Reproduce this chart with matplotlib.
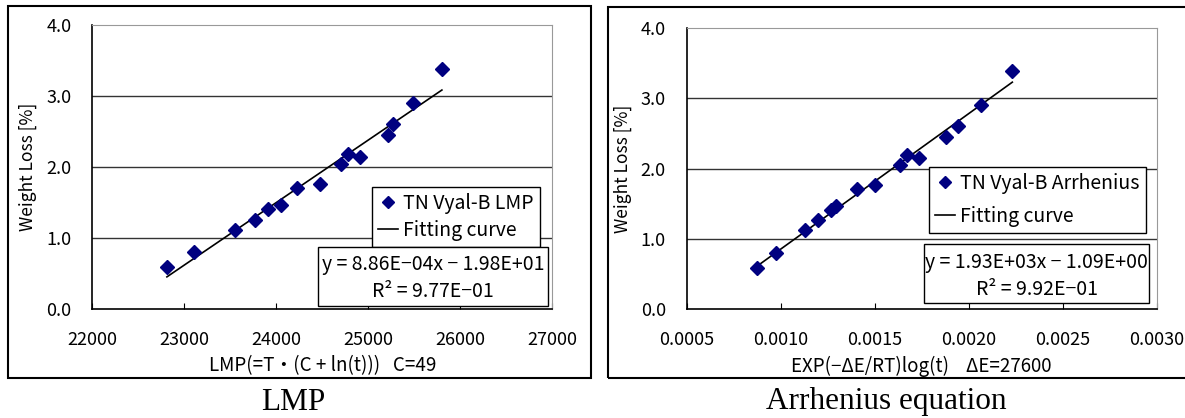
import numpy as np
import matplotlib
matplotlib.use('Agg')
import matplotlib.pyplot as plt
from matplotlib.lines import Line2D
from matplotlib.patches import Rectangle
from matplotlib.ticker import FormatStrFormatter

plt.rcParams['font.family'] = ['Noto Sans CJK JP', 'DejaVu Sans']

# Weight loss [%] (same samples in both panels)
weight_loss = [0.59, 0.80, 1.12, 1.26, 1.41, 1.46, 1.71, 1.76,
               2.05, 2.19, 2.15, 2.45, 2.61, 2.90, 3.39]

# Larson-Miller parameter, C=49
lmp = [22811, 23101, 23548, 23769, 23912, 24048, 24220, 24473,
       24699, 24781, 24912, 25219, 25272, 25489, 25800]

# EXP(-dE/RT)log(t), dE=27600
arrh = [0.000874, 0.000974, 0.001128, 0.001200, 0.001270, 0.001294,
        0.001408, 0.001502, 0.001634, 0.001670, 0.001736, 0.001878,
        0.001944, 0.002066, 0.002232]

lmp_eq = ['y = 8.86E\u221204x \u2212 1.98E+01', 'R\u00b2 = 9.77E\u221201']
arrh_eq = ['y = 1.93E+03x \u2212 1.09E+00', 'R\u00b2 = 9.92E\u221201']

W, H = 1185, 418
fig = plt.figure(figsize=(W / 100, H / 100), dpi=100)


def fx(px):
    return px / W


def fy(py):
    return 1 - py / H


def panel(rect, x, y, xlim, xticks, xfmt, xlabel, series, eq, leg_xy, leg_sp,
          eq_box, title, title_x):
    x0, y0, x1, y1 = rect
    ax = fig.add_axes([fx(x0), fy(y1), fx(x1 - x0), (y1 - y0) / H])

    # linear fit through the points
    k, b = np.polyfit(x, y, 1)
    xs = np.array([min(x), max(x)])
    ax.plot(xs, k * xs + b, color='black', lw=1.2, zorder=3)
    ax.plot(x, y, 'D', color='#000080', markersize=7.5, zorder=4, clip_on=False)

    ax.set_xlim(*xlim)
    ax.set_ylim(0, 4)
    ax.set_xticks(xticks)
    ax.set_yticks([0, 1, 2, 3, 4])
    ax.xaxis.set_major_formatter(FormatStrFormatter(xfmt))
    ax.yaxis.set_major_formatter(FormatStrFormatter('%.1f'))
    ax.tick_params(axis='x', direction='in', length=4, pad=16, labelsize=13)
    ax.tick_params(axis='y', direction='in', length=0, pad=15, labelsize=13)
    for v in [1, 2, 3]:
        ax.axhline(v, color='#333333', lw=1, zorder=1)
    ax.spines['top'].set_color('#999999')
    ax.spines['right'].set_color('#999999')
    ax.spines['left'].set_linewidth(1.2)
    ax.spines['bottom'].set_linewidth(1.2)

    ax.set_ylabel('Weight Loss [%]', fontsize=12.5, va='center')
    ax.yaxis.set_label_coords(-64 / (x1 - x0), 0.5)
    ax.set_xlabel(xlabel, fontsize=13.5, va='center')
    ax.xaxis.set_label_coords(0.5, -(366 - y1) / (y1 - y0))

    handles = [Line2D([], [], ls='none', marker='D', color='#000080', markersize=6.5),
               Line2D([], [], color='black', lw=1.2)]
    leg = ax.legend(handles, [series, 'Fitting curve'], loc='upper left',
                    bbox_to_anchor=(fx(leg_xy[0]), fy(leg_xy[1])),
                    bbox_transform=fig.transFigure, borderaxespad=0,
                    fancybox=False, framealpha=1, edgecolor='black',
                    fontsize=14, handlelength=1.0, handletextpad=0.3,
                    labelspacing=leg_sp, borderpad=0.3)
    leg.get_frame().set_linewidth(1.0)

    bx0, by0, bx1, by1 = eq_box
    fig.patches.append(Rectangle((fx(bx0), fy(by1)), fx(bx1 - bx0), (by1 - by0) / H,
                                 transform=fig.transFigure, fill=True, fc='white',
                                 ec='black', lw=1.0, zorder=5))
    cx = (bx0 + bx1) / 2
    fig.text(fx(cx), fy(by0 + 18), eq[0], ha='center', va='center', fontsize=14, zorder=6)
    fig.text(fx(cx), fy(by0 + 45), eq[1], ha='center', va='center', fontsize=14, zorder=6)

    fig.text(fx(title_x), fy(402), title, ha='center', va='center',
             fontsize=22.5, family='Liberation Serif')
    return ax


# outer frames
fig.patches.append(Rectangle((fx(7.7), fy(378)), fx(591 - 7.7), (378 - 5.7) / H,
                             transform=fig.transFigure, fill=False, ec='black', lw=1.5))
fig.patches.append(Rectangle((fx(608.3), fy(378)), fx(1195 - 608.3), (378 - 7) / H,
                             transform=fig.transFigure, fill=False, ec='black', lw=1.5))

panel((92.3, 25.3, 552.3, 309), lmp, weight_loss, (22000, 27000),
      [22000, 23000, 24000, 25000, 26000, 27000], '%d',
      'LMP(=T\u30fb(C + ln(t)))   C=49', 'TN Vyal-B LMP', lmp_eq,
      (372.3, 187.3), 0.3, (318.3, 246.7, 548.3, 306), 'LMP', 293)

panel((686.7, 28, 1156.7, 309), arrh, weight_loss, (0.0005, 0.0030),
      [0.0005, 0.0010, 0.0015, 0.0020, 0.0025, 0.0030], '%.4f',
      'EXP(\u2212\u0394E/RT)log(t)    \u0394E=27600', 'TN Vyal-B Arrhenius', arrh_eq,
      (929.3, 166.7), 0.65, (924, 244.3, 1149.3, 303.3), 'Arrhenius equation', 886)

plt.savefig('out.png', dpi=100)
